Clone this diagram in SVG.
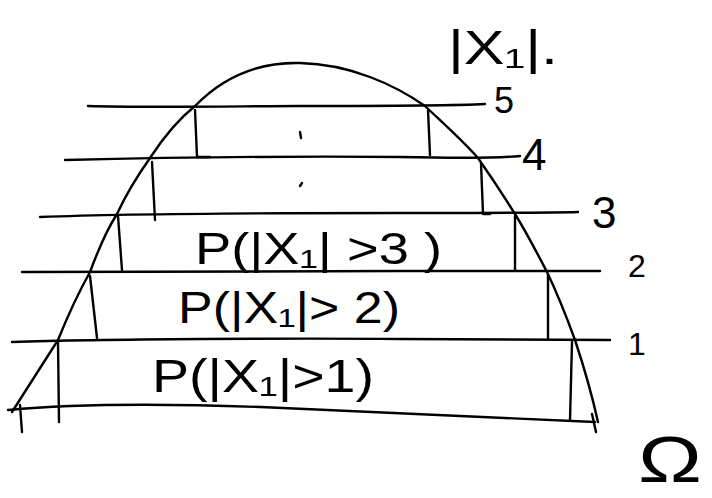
<svg xmlns="http://www.w3.org/2000/svg" width="712" height="498" viewBox="0 0 712 498">
<style>
.s{fill:none;stroke:#000;stroke-width:2.4;stroke-linecap:round;stroke-linejoin:round}
.t{font-family:"Liberation Sans","DejaVu Sans",sans-serif;fill:#000}
</style>
<rect width="712" height="498" fill="#fff"/>
<g id="curve">
<path class="s" d="M12,412 L58,340 C70,310 80,290 90,272 C100,245 108,228 117,214 C128,190 138,175 150,158 C165,135 180,118 195,106 C225,75 260,62 300,63 C350,64 395,85 425,106 C445,125 462,140 478,158 C492,178 505,198 515,214 C528,235 538,255 547,272 C558,295 567,318 575,340 C585,370 592,395 598,422"/>
</g>
<g id="levels">
<path class="s" d="M88,106 C150,108 250,106 300,106 C380,106 450,106 485,104"/>
<path class="s" d="M65,160 C150,158 300,156 400,157 C450,158 500,158 520,156"/>
<path class="s" d="M40,217 C120,214 300,213 400,213 C480,213 540,213 578,212"/>
<path class="s" d="M22,272 C150,272 300,271 400,271 C480,271 560,271 600,271"/>
<path class="s" d="M12,342 C100,339 300,338 400,339 C480,339 560,340 610,340"/>
<path class="s" d="M8,410 C60,405 150,403 260,407 C380,412 500,418 595,422"/>
</g>
<g id="verticals">
<path class="s" d="M195,110 L197,157 L210,157"/>
<path class="s" d="M428,110 L430,155"/>
<path class="s" d="M152,162 L155,220"/>
<path class="s" d="M481,163 L483,214 L490,214"/>
<path class="s" d="M118,216 L122,270"/>
<path class="s" d="M515,216 L515,270"/>
<path class="s" d="M90,276 L97,338"/>
<path class="s" d="M548,274 L548,338"/>
<path class="s" d="M58,342 L59,422"/>
<path class="s" d="M572,342 L570,420"/>
<path class="s" d="M20,405 L22,432"/>
<path class="s" d="M592,414 L596,432"/>
<path class="s" d="M300,132 L301,138 M300,186 L302,183"/>
</g>
<g id="labels">
<text class="t" x="448" y="64" font-size="48" textLength="110" lengthAdjust="spacingAndGlyphs">|X₁|.</text>
<text class="t" x="494" y="113" font-size="36">5</text>
<text class="t" x="522" y="170" font-size="44">4</text>
<text class="t" x="592" y="228" font-size="44">3</text>
<text class="t" x="628" y="277" font-size="32">2</text>
<text class="t" x="628" y="355" font-size="32">1</text>
<text class="t" x="195" y="264" font-size="44" textLength="247" lengthAdjust="spacingAndGlyphs">P(|X₁| &gt;3 )</text>
<text class="t" x="178" y="323" font-size="44" textLength="222" lengthAdjust="spacingAndGlyphs">P(|X₁|&gt; 2)</text>
<text class="t" x="152" y="392" font-size="46" textLength="222" lengthAdjust="spacingAndGlyphs">P(|X₁|&gt;1)</text>
<text class="t" x="638" y="482" font-size="64" textLength="64" lengthAdjust="spacingAndGlyphs">Ω</text>
</g>
</svg>
